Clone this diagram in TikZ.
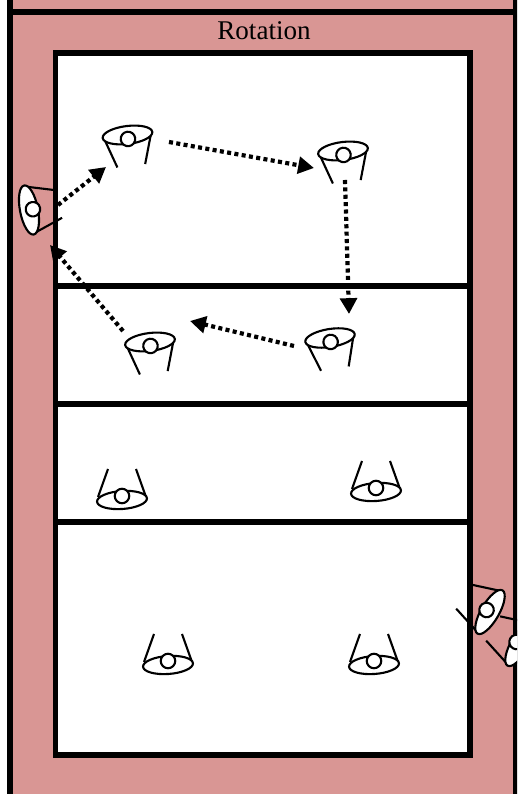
\documentclass[tikz,border=0pt]{standalone}
\usepackage{xcolor}
\usepackage{fontspec}
\setmainfont{Liberation Serif}
\usepackage{tikz}
\usetikzlibrary{shapes.geometric, arrows.meta}
\definecolor{zonepink}{HTML}{D99694}
\tikzset{
  frameline/.style={draw=black, line width=3.3pt},
  playerline/.style={draw=black, line width=1.2pt},
  playerbody/.style={
    ellipse, draw, fill=white, line width=1.2pt, inner sep=0pt,
    minimum width=1cm, minimum height=0.36cm, transform shape
  },
  playerhead/.style={
    circle, draw, fill=white, line width=1.2pt, inner sep=0pt,
    minimum size=0.29cm, transform shape
  },
  rotarrow/.style={
    -{Triangle[length=9pt, width=9.5pt]}, line width=2.4pt,
    dash pattern=on 2.3pt off 1.9pt
  },
  player/.pic={
    \draw[playerline] (-23,-3) -- (-14,-31) (23,-3) -- (14,-31);
    \node[playerbody] (-body) at (0,0) {};
    \node[playerhead] (-head) at (0,-4) {};
  },
  playerfacing/.pic={
    \draw[playerline] (-24,-3) -- (-14,-31) (24,-3) -- (14,-31);
    \node[playerbody, rotate=4] (-body) at (0,0) {};
    \node[playerhead] (-head) at (0,-4) {};
  },
}
\begin{document}
\begin{tikzpicture}[x=0.02cm, y=0.02cm]
  \useasboundingbox (0,0) rectangle (517,794);
  \clip (0,0) rectangle (517,794);

  % Surround
  \fill[zonepink] (10,0) rectangle (517,794);
  \draw[frameline] (10,0) -- (10,794);
  \draw[frameline] (515.5,0) -- (515.5,794);
  \draw[frameline] (10,782) -- (517,782);
  \node[font=\fontsize{15.4pt}{18pt}\selectfont] (title) at (264,763) {Rotation};

  % Court
  \draw[frameline, fill=white] (55.5,39) rectangle (470,741);
  \draw[frameline] (55.5,508) -- (470,508);
  \draw[frameline] (55.5,390) -- (470,390);
  \draw[frameline] (55.5,272) -- (470,272);

  % Players in rotation
  \pic[rotate=7] (backleft) at (127.5,659) {player};
  \pic[rotate=7] (backright) at (343,643) {player};
  \pic[rotate=9] (midright) at (330,456) {player};
  \pic[rotate=7] (midleft) at (150,452) {player};
  \pic[rotate=101] (server) at (29,584) {player};

  % Players facing the other way
  \pic[rotate=180] (netleft) at (122,294) {playerfacing};
  \pic[rotate=180] (netright) at (376,302) {playerfacing};
  \pic[rotate=180] (farleft) at (168,129) {playerfacing};
  \pic[rotate=180] (farright) at (374,129) {playerfacing};

  % Waiting at the side
  \pic[rotate=240] (waitsecond) at (520,150) {player};
  \pic[rotate=240] (waitfirst) at (490,182) {player};

  % Arrow ends
  \coordinate (serverout) at (58,589);
  \coordinate (backleftin) at (106,627);
  \coordinate (backleftout) at (169,652);
  \coordinate (backrightin) at (314,626);
  \coordinate (backrightout) at (345,614);
  \coordinate (midrightin) at (349,480);
  \coordinate (midrightout) at (294,448);
  \coordinate (midleftin) at (190,473);
  \coordinate (midleftout) at (123,463);
  \coordinate (serverin) at (50,549);

  % Rotation path
  \draw[rotarrow] (serverout) -- (backleftin);
  \draw[rotarrow] (backleftout) -- (backrightin);
  \draw[rotarrow] (backrightout) -- (midrightin);
  \draw[rotarrow] (midrightout) -- (midleftin);
  \draw[rotarrow] (midleftout) -- (serverin);
\end{tikzpicture}
\end{document}
